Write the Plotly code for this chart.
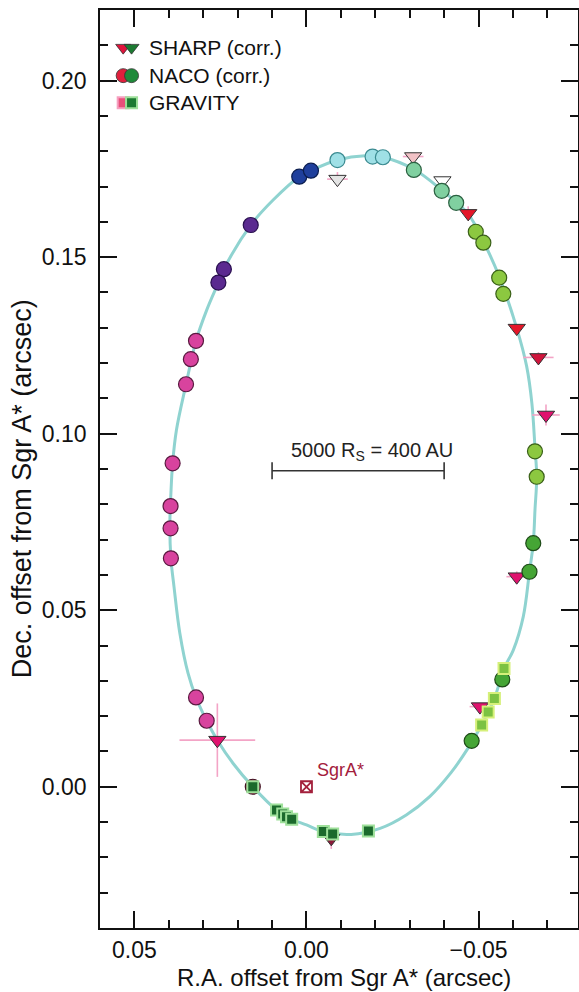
import plotly.graph_objects as go

# ---------------- data (arcsec) ----------------
orbit_ra = [-0.0170, -0.0222, -0.0312, -0.0393, -0.0470, -0.0514, -0.0560, -0.0611,
            -0.0640, -0.0655, -0.0664, -0.0669, -0.0664, -0.0659, -0.0648, -0.0630,
            -0.0601, -0.0574, -0.0546, -0.0509, -0.0470, -0.0420, -0.0358, -0.0290,
            -0.0214, -0.0130, -0.0049, 0.0000, 0.0043, 0.0069, 0.0087, 0.0156, 0.0213,
            0.0259, 0.0290, 0.0321, 0.0344, 0.0368, 0.0385, 0.0394, 0.0397, 0.0394,
            0.0389, 0.0378, 0.0350, 0.0321, 0.0290, 0.0256, 0.0240, 0.0162, 0.0097,
            0.0021, -0.0013, -0.0090, -0.0170]
orbit_dec = [0.1787, 0.1783, 0.1749, 0.1690, 0.1622, 0.1545, 0.1445, 0.1299,
             0.1190, 0.1086, 0.0960, 0.0878, 0.0784, 0.0690, 0.0609, 0.0482,
             0.0387, 0.0335, 0.0250, 0.0175, 0.0110, 0.0040, -0.0028, -0.0080,
             -0.0118, -0.0135, -0.0127, -0.0108, -0.0092, -0.0077, -0.0066, 0.0000, 0.0066,
             0.0132, 0.0187, 0.0253, 0.0321, 0.0435, 0.0567, 0.0647, 0.0740, 0.0830,
             0.0916, 0.1010, 0.1140, 0.1263, 0.1350, 0.1428, 0.1466, 0.1591, 0.1662,
             0.1728, 0.1745, 0.1775, 0.1787]

naco_ra = [0.0321, 0.0336, 0.0350, 0.0389, 0.0395, 0.0395, 0.0394, 0.0321, 0.0290,
           0.0162, 0.0240, 0.0256,
           0.0021, -0.0013,
           -0.0090, -0.0192, -0.0222,
           -0.0312, -0.0393, -0.0435,
           -0.0492, -0.0514, -0.0560, -0.0572, -0.0664, -0.0669,
           -0.0659, -0.0648, -0.0569, -0.0480,
           0.0156]
naco_dec = [0.1263, 0.1211, 0.1140, 0.0916, 0.0795, 0.0732, 0.0647, 0.0253, 0.0187,
            0.1591, 0.1466, 0.1428,
            0.1728, 0.1745,
            0.1775, 0.1785, 0.1783,
            0.1747, 0.1688, 0.1654,
            0.1572, 0.1541, 0.1442, 0.1396, 0.0950, 0.0878,
            0.0690, 0.0609, 0.0304, 0.0130,
            0.0000]
naco_err_ra = [0, 0, 0, 0, 0, 0, 0, 0.0009, 0.0006,
               0, 0, 0,
               0, 0,
               0, 0, 0,
               0, 0, 0,
               0, 0, 0, 0, 0, 0,
               0, 0, 0, 0,
               0.0015]
naco_err_dec = [0, 0, 0, 0, 0, 0, 0, 0, 0,
                0, 0, 0,
                0, 0,
                0, 0, 0,
                0, 0, 0,
                0, 0, 0, 0, 0, 0,
                0, 0, 0, 0,
                0.0015]
naco_epoch = ["m"] * 9 + ["p"] * 3 + ["b"] * 2 + ["c"] * 3 + ["t"] * 3 + ["l"] * 6 + ["g"] * 4 + ["r"]

sharp_ra = [-0.0310, -0.0090, -0.0395, -0.0470, -0.0611, -0.0674, -0.0696, -0.0611, -0.0504, 0.0259, -0.0072]
sharp_dec = [0.1785, 0.1721, 0.1717, 0.1624, 0.1299, 0.1216, 0.1053, 0.0595, 0.0227, 0.0132, -0.0146]
sharp_err_ra = [0.0030, 0.0030, 0.0010, 0.0010, 0.0012, 0.0044, 0.0040, 0.0030, 0.0030, 0.0110, 0.0015]
sharp_err_dec = [0.0010, 0.0020, 0.0010, 0.0020, 0.0008, 0.0015, 0.0030, 0.0015, 0.0008, 0.0104, 0.0030]
sharp_epoch = ["pk", "gy", "wh", "rd", "rd", "cr", "mg", "mg", "mg", "mg", "mr"]

grav_ra = [0.0156, 0.0087, 0.0069, 0.0058, 0.0043, -0.0049, -0.0076, -0.0180,
           -0.0574, -0.0546, -0.0528, -0.0509]
grav_dec = [0.0000, -0.0066, -0.0077, -0.0085, -0.0092, -0.0127, -0.0134, -0.0125,
            0.0335, 0.0250, 0.0212, 0.0175]
grav_epoch = ["d"] * 8 + ["l"] * 4

sgra_ra = [0.0]
sgra_dec = [0.0]

scale_bar_ra = [0.0100, -0.0400]
scale_bar_dec = 0.0895
scale_bar_label = "5000 R<sub>S</sub> = 400 AU"

x_ticks = [0.05, 0.00, -0.05]
y_ticks = [0.00, 0.05, 0.10, 0.15, 0.20]
x_range = [0.0600, -0.0789]
y_range = [-0.0400, 0.2200]

legend_labels = ["SHARP (corr.)", "NACO (corr.)", "GRAVITY"]

# ---------------- styles ----------------
naco_fill = {"m": "#d8439e", "p": "#5b2a90", "b": "#1f3f9c", "c": "#9fe0e6",
             "t": "#80d0a0", "l": "#8cc840", "g": "#45a535", "r": "#8c2a4c"}
naco_edge = {"m": "#5a1a40", "p": "#2a1050", "b": "#0c1e50", "c": "#3a8a90",
             "t": "#2a6040", "l": "#3a6018", "g": "#1e4a18", "r": "#401020"}
sharp_fill = {"pk": "#f2c2c6", "gy": "#e4e4e4", "wh": "#ffffff", "rd": "#e41628",
              "cr": "#d0143c", "mg": "#e0126e", "mr": "#8c1a3a"}
grav_fill = {"d": "#1b6a2c", "l": "#7cc242"}
grav_edge = {"d": "#9ee09a", "l": "#d6f07a"}

FONT = "Liberation Sans, Arial, Helvetica, sans-serif"
INK = "#111111"

fig = go.Figure()

fig.add_trace(go.Scatter(x=orbit_ra, y=orbit_dec, mode="lines",
                         line=dict(color="#8fd3d0", width=3, shape="spline", smoothing=1.0),
                         hoverinfo="skip", showlegend=False))

fig.add_trace(go.Scatter(x=scale_bar_ra, y=[scale_bar_dec] * len(scale_bar_ra),
                         mode="lines+markers",
                         line=dict(color="#333333", width=1.6),
                         marker=dict(symbol="line-ns", size=12, line=dict(width=1.6, color="#333333")),
                         hoverinfo="skip", showlegend=False))

fig.add_trace(go.Scatter(x=sharp_ra, y=sharp_dec, mode="markers",
                         error_x=dict(type="data", array=sharp_err_ra, visible=True,
                                      color="#f3a4c6", thickness=1.6, width=0),
                         error_y=dict(type="data", array=sharp_err_dec, visible=True,
                                      color="#f3a4c6", thickness=1.6, width=0),
                         marker=dict(symbol="triangle-down", size=15,
                                     color=[sharp_fill[e] for e in sharp_epoch],
                                     line=dict(width=1, color="#333333")),
                         showlegend=False))

fig.add_trace(go.Scatter(x=naco_ra, y=naco_dec, mode="markers",
                         error_x=dict(type="data", array=naco_err_ra, visible=True,
                                      color="#f3a4c6", thickness=1.6, width=0),
                         error_y=dict(type="data", array=naco_err_dec, visible=True,
                                      color="#f3a4c6", thickness=1.6, width=0),
                         marker=dict(symbol="circle", size=15,
                                     color=[naco_fill[e] for e in naco_epoch],
                                     line=dict(width=1.2, color=[naco_edge[e] for e in naco_epoch])),
                         showlegend=False))

fig.add_trace(go.Scatter(x=grav_ra, y=grav_dec, mode="markers",
                         marker=dict(symbol="square", size=11,
                                     color=[grav_fill[e] for e in grav_epoch],
                                     line=dict(width=2, color=[grav_edge[e] for e in grav_epoch])),
                         showlegend=False))

fig.add_trace(go.Scatter(x=sgra_ra, y=sgra_dec, mode="markers",
                         marker=dict(symbol="square-x-open", size=11, color="#a3203c",
                                     line=dict(width=1.8, color="#a3203c")),
                         showlegend=False))

fig.add_annotation(x=sgra_ra[0], y=sgra_dec[0], text="SgrA*", showarrow=False,
                   xanchor="left", yanchor="middle", xshift=9, yshift=17,
                   font=dict(family=FONT, size=18, color="#a3203c"))

fig.add_annotation(x=sum(scale_bar_ra) / 2, y=scale_bar_dec, text=scale_bar_label,
                   showarrow=False, xanchor="center", yanchor="bottom", xshift=14, yshift=5,
                   font=dict(family=FONT, size=20, color="#222222"))

# ---------------- legend (icons on a hidden unit overlay axis) ----------------
leg_rows = [0.9590, 0.9285, 0.8990]
leg_x = [0.0485, 0.0660]
fig.add_trace(go.Scatter(x=leg_x, y=[leg_rows[0]] * 2, xaxis="x2", yaxis="y2", mode="markers",
                         marker=dict(symbol="triangle-down", size=13, color=["#e0143c", "#1c7a32"],
                                     line=dict(width=0.8, color="#333333")),
                         showlegend=False, hoverinfo="skip"))
fig.add_trace(go.Scatter(x=leg_x, y=[leg_rows[1]] * 2, xaxis="x2", yaxis="y2", mode="markers",
                         marker=dict(symbol="circle", size=14, color=["#e0203c", "#1f8a3a"],
                                     line=dict(width=0.8, color="#333333")),
                         showlegend=False, hoverinfo="skip"))
fig.add_trace(go.Scatter(x=leg_x, y=[leg_rows[2]] * 2, xaxis="x2", yaxis="y2", mode="markers",
                         marker=dict(symbol="square", size=11, color=["#e8507a", "#1c7a32"],
                                     line=dict(width=2, color=["#f6a0c0", "#9ee09a"])),
                         showlegend=False, hoverinfo="skip"))
for lab, ry in zip(legend_labels, leg_rows):
    fig.add_annotation(xref="paper", yref="paper", x=0.0977, y=ry, text=lab, showarrow=False,
                       xanchor="left", yanchor="middle",
                       font=dict(family=FONT, size=21, color=INK))

# ---------------- axis titles ----------------
fig.add_annotation(xref="paper", yref="paper", x=0.51, y=-0.0535, text="R.A. offset from Sgr A* (arcsec)",
                   showarrow=False, xanchor="center", yanchor="middle",
                   font=dict(family=FONT, size=24, color=INK))
fig.add_annotation(xref="paper", yref="paper", x=-0.163, y=0.478, text="Dec. offset from Sgr A* (arcsec)",
                   showarrow=False, xanchor="center", yanchor="middle", textangle=-90,
                   font=dict(family=FONT, size=27, color=INK))

axis_common = dict(showline=True, linecolor=INK, linewidth=1.6, mirror="allticks",
                   ticks="inside", ticklen=17, tickwidth=1.5, tickcolor=INK,
                   showgrid=False, zeroline=False, tickformat=".2f", automargin=False,
                   tickfont=dict(family=FONT, size=23, color=INK),
                   minor=dict(ticks="inside", ticklen=8, tickwidth=1.5, tickcolor=INK,
                              dtick=0.01, showgrid=False))

fig.update_layout(
    width=579, height=992,
    margin=dict(l=100, r=1, t=10, b=64),
    paper_bgcolor="white", plot_bgcolor="white",
    showlegend=False,
    xaxis=dict(range=x_range, tickvals=x_ticks, ticklabelstandoff=1, **axis_common),
    yaxis=dict(range=y_range, tickvals=y_ticks, ticklabelstandoff=7, **axis_common),
    xaxis2=dict(overlaying="x", range=[0, 1], visible=False),
    yaxis2=dict(overlaying="y", range=[0, 1], visible=False),
)

fig.write_html("out.html", config={"displayModeBar": False},
               post_script="document.body.style.margin='0px';")
